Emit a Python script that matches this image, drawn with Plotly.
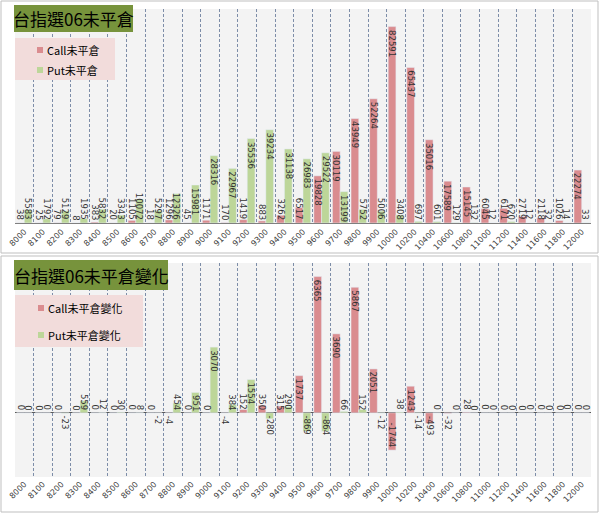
import plotly.graph_objects as go
from plotly.subplots import make_subplots

strikes = ["8000", "8100", "8200", "8300", "8400", "8500", "8600", "8700", "8800", "8900",
           "9000", "9100", "9200", "9300", "9400", "9500", "9600", "9700", "9800", "9900",
           "10000", "10200", "10400", "10600", "10800", "11000", "11200", "11400", "11600",
           "11800", "12000"]

call_oi = [38, 25, 79, 8, 383, 20, 1105, 18, 1296, 45, 1171, 170, 1419, 883, 3262, 6517,
           19828, 30119, 43949, 52264, 82591, 65437, 35016, 17589, 15145, 6045, 6171, 2719,
           2118, 1026, 22274]
put_oi = [5583, 1792, 5129, 1935, 5832, 3343, 10072, 5297, 12326, 15981, 28316, 22967, 35536,
          39234, 31138, 26983, 29522, 13199, 5752, 5006, 3408, 697, 601, 129, 132, 12, 620,
          12, 32, 14, 33]

call_chg = [0, 0, 0, 0, 0, 0, 0, 0, -4, 0, 0, -4, 152, 350, 315, 1737, 6365, 3690, 5867, 2051,
            -1744, 1243, -493, -32, 28, 0, 0, 0, 0, 0, 0]
put_chg = [0, 0, -23, 559, 12, 30, 8, -2, 454, 951, 3070, 384, 1554, -280, 290, -869, -864, 66,
           152, -12, 38, -14, 0, 0, 0, 0, 0, 0, 0, 0, 0]

title_top = "台指選06未平倉"
title_bot = "台指選06未平倉變化"
name_call_top = "Call未平倉"
name_put_top = "Put未平倉"
name_call_bot = "Call未平倉變化"
name_put_bot = "Put未平倉變化"

W, H = 600, 514
CALL_C = "#DA8C8F"
PUT_C = "#BDD699"
CJK = "Noto Sans CJK TC"
NUM = "DejaVu Sans"
LBL_SIZE = 8.5

# pixel layout of plot areas
X0, X1 = 15, 591
TOP_Y0, TOP_Y1 = 9, 223
BOT_Y0, BOT_Y1 = 263, 477
TOP_RANGE = [0, 90000]
BOT_RANGE = [-3000, 7000]
N = len(strikes)
XR = [-0.5, N - 0.5]
BARGAP = 0.17
HALF = (X1 - X0) / N * (1 - BARGAP) / 4  # centre offset of each bar in a pair


def px(p):
    return p / W


def py(p):
    return 1 - p / H


fig = make_subplots(rows=2, cols=1)

fig.add_trace(go.Bar(x=strikes, y=call_oi, name=name_call_top, marker_color=CALL_C),
              row=1, col=1)
fig.add_trace(go.Bar(x=strikes, y=put_oi, name=name_put_top, marker_color=PUT_C),
              row=1, col=1)
fig.add_trace(go.Bar(x=strikes, y=call_chg, name=name_call_bot, marker_color=CALL_C),
              row=2, col=1)
fig.add_trace(go.Bar(x=strikes, y=put_chg, name=name_put_bot, marker_color=PUT_C),
              row=2, col=1)

annots = []


def add_labels(vals, xref, yref, shift, rng, hpx):
    upp = (rng[1] - rng[0]) / hpx  # data units per pixel
    for i, v in enumerate(vals):
        t = str(v)
        need = (len(t) * LBL_SIZE * 0.636 + 3) * upp
        if v >= 0:
            if v >= need:
                y, ya, ys = v, "top", -1
            else:
                y, ya, ys = 0, "bottom", 1
        else:
            if -v >= need:
                y, ya, ys = v, "bottom", 1
            else:
                y, ya, ys = 0, "top", -1
        annots.append(dict(x=i, y=y, xref=xref, yref=yref, text=t, showarrow=False,
                           textangle=90, xanchor="center", yanchor=ya, xshift=shift,
                           yshift=ys, font=dict(family=NUM, size=LBL_SIZE, color="#333333")))


add_labels(call_oi, "x", "y", -HALF, TOP_RANGE, TOP_Y1 - TOP_Y0)
add_labels(put_oi, "x", "y", HALF, TOP_RANGE, TOP_Y1 - TOP_Y0)
add_labels(call_chg, "x2", "y2", -HALF, BOT_RANGE, BOT_Y1 - BOT_Y0)
add_labels(put_chg, "x2", "y2", HALF, BOT_RANGE, BOT_Y1 - BOT_Y0)

# titles
annots.append(dict(x=px((14 + 133) / 2), y=py((5 + 32) / 2), xref="paper", yref="paper",
                   text=title_top, showarrow=False, xanchor="center", yanchor="middle",
                   font=dict(family=CJK, size=17, color="#000000")))
annots.append(dict(x=px((14 + 168) / 2), y=py((260 + 290) / 2), xref="paper", yref="paper",
                   text=title_bot, showarrow=False, xanchor="center", yanchor="middle",
                   font=dict(family=CJK, size=17, color="#000000")))

shapes = [
    dict(type="rect", xref="paper", yref="paper", x0=px(1), x1=px(598), y0=py(253), y1=py(1),
         line=dict(color="#BFBFBF", width=1), layer="below"),
    dict(type="rect", xref="paper", yref="paper", x0=px(1), x1=px(598), y0=py(512), y1=py(256),
         line=dict(color="#BFBFBF", width=1), layer="below"),
    dict(type="rect", xref="paper", yref="paper", x0=px(14), x1=px(133), y0=py(32), y1=py(5),
         fillcolor="#77933C", line=dict(width=0), layer="above"),
    dict(type="rect", xref="paper", yref="paper", x0=px(14), x1=px(168), y0=py(290), y1=py(260),
         fillcolor="#77933C", line=dict(width=0), layer="above"),
    dict(type="rect", xref="paper", yref="paper", x0=px(15), x1=px(115), y0=py(80), y1=py(38),
         fillcolor="#F2DCDB", line=dict(width=0), layer="above"),
    dict(type="rect", xref="paper", yref="paper", x0=px(15), x1=px(143), y0=py(347), y1=py(295),
         fillcolor="#F2DCDB", line=dict(width=0), layer="above"),
]

# legend entries (key square + text)
legend_items = [
    (name_call_top, CALL_C, 37, 50, 45),
    (name_put_top, PUT_C, 37, 70, 45),
    (name_call_bot, CALL_C, 38, 308, 46),
    (name_put_bot, PUT_C, 38, 335, 46),
]
for name, col, kx, ky, tx in legend_items:
    shapes.append(dict(type="rect", xref="paper", yref="paper", x0=px(kx), x1=px(kx + 6),
                       y0=py(ky + 3), y1=py(ky - 3), fillcolor=col, line=dict(width=0),
                       layer="above"))
    annots.append(dict(x=px(tx), y=py(ky), xref="paper", yref="paper", text=name,
                       showarrow=False, xanchor="left", yanchor="middle",
                       font=dict(family=CJK, size=11, color="#000000")))

xcommon = dict(type="category", categoryorder="array", categoryarray=strikes, range=XR,
               tickson="boundaries", showgrid=True, griddash="3px,2px",
               gridcolor="#7D8DA8", gridwidth=1, tickangle=-45, ticks="",
               automargin=False,
               tickfont=dict(family=NUM, size=8, color="#404040"),
               domain=[px(X0), px(X1)])

fig.update_layout(
    width=W, height=H,
    margin=dict(l=0, r=0, t=0, b=0),
    paper_bgcolor="#FFFFFF",
    plot_bgcolor="#F3F3F3",
    barmode="group", bargap=BARGAP, bargroupgap=0,
    annotations=annots,
    shapes=shapes,
    xaxis=dict(**xcommon, showline=True, linecolor="#808080"),
    xaxis2=dict(**xcommon, showline=False),
    yaxis=dict(domain=[py(TOP_Y1), py(TOP_Y0)], range=TOP_RANGE, showticklabels=False,
               showgrid=False, zeroline=True, zerolinecolor="#808080", zerolinewidth=1,
               automargin=False),
    yaxis2=dict(domain=[py(BOT_Y1), py(BOT_Y0)], range=BOT_RANGE, showticklabels=False,
                showgrid=False, zeroline=True, zerolinecolor="#595959", zerolinewidth=1,
                automargin=False),
    showlegend=False,
)

fig.write_html("out.html", config={"displayModeBar": False},
               post_script="document.body.style.margin='0px';")
